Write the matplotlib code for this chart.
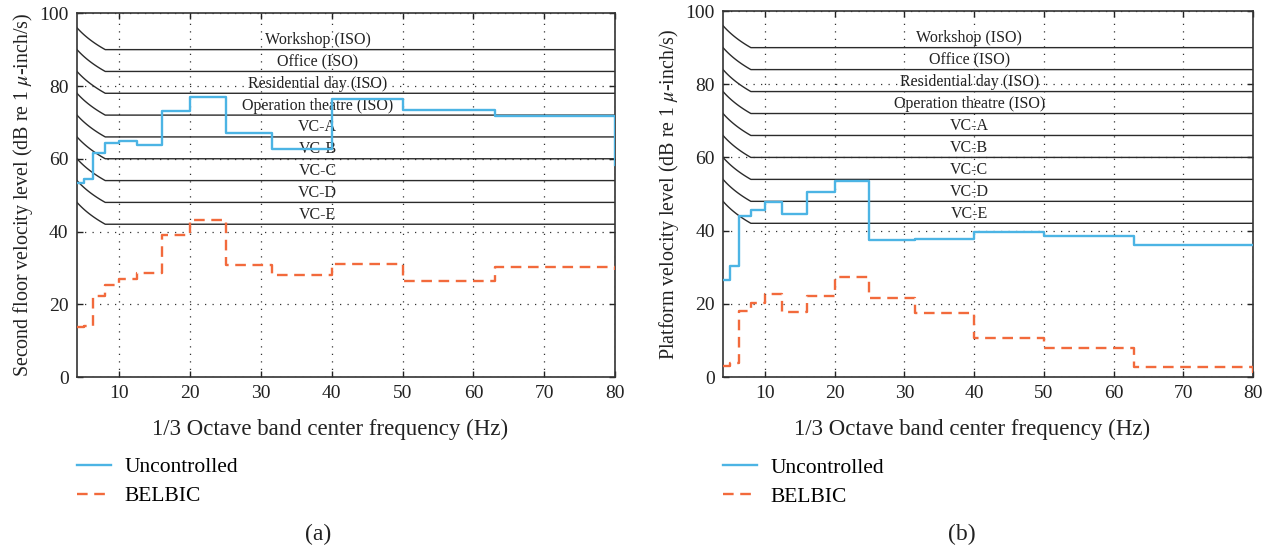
import numpy as np
import matplotlib
matplotlib.use("Agg")
import matplotlib.pyplot as plt

plt.rcParams['font.family'] = ['Liberation Serif', 'DejaVu Serif']
plt.rcParams['mathtext.fontset'] = 'stix'

# 1/3 octave band centre frequencies (Hz)
freqs = [4, 5, 6.3, 8, 10, 12.5, 16, 20, 25, 31.5, 40, 50, 63, 80]

# (a) second floor
floor_unc = [53.4, 54.4, 61.6, 64.2, 65.0, 63.7, 73.2, 77.0, 67.0, 62.8, 76.4, 73.3, 71.8, 58.2]
floor_bel = [13.7, 14.0, 22.3, 25.3, 27.0, 28.5, 39.1, 43.1, 30.8, 28.0, 31.0, 26.4, 30.3, 29.3]

# (b) platform
plat_unc = [26.5, 30.3, 43.9, 45.7, 47.9, 44.6, 50.5, 53.5, 37.4, 37.6, 39.6, 38.4, 36.0, 36.0]
plat_bel = [3.1, 3.9, 18.1, 20.3, 22.6, 17.9, 22.1, 27.2, 21.5, 17.6, 10.7, 8.0, 2.8, 1.1]

# vibration criteria, flat level above 8 Hz (dB re 1 micro-inch/s)
crit_names = ['Workshop (ISO)', 'Office (ISO)', 'Residential day (ISO)',
              'Operation theatre (ISO)', 'VC-A', 'VC-B', 'VC-C', 'VC-D', 'VC-E']
crit_levels = [90, 84, 78, 72, 66, 60, 54, 48, 42]

blue = '#4cb4e4'
orange = '#f26a3c'
txt = '#222222'


def draw_panel(ax, unc, bel, ylabel, label_x):
    # criteria curves: constant acceleration below 8 Hz
    fc = np.linspace(4, 8, 40)
    for name, lev in zip(crit_names, crit_levels):
        xs = np.concatenate([fc, [80]])
        ys = np.concatenate([lev + 20 * np.log10(8 / fc), [lev]])
        ax.plot(xs, ys, color='#2b2b2b', lw=1.0, zorder=2)
        ax.text(label_x, lev + 2.6, name, ha='center', va='center',
                fontsize=11.5, color=txt, zorder=3)

    ax.step(freqs, unc, where='post', color=blue, lw=1.7, label='Uncontrolled', zorder=4)
    ax.step(freqs, bel, where='post', color=orange, lw=1.7, ls=(0, (4.5, 2.8)),
            label='BELBIC', zorder=4)

    ax.set_xlim(4, 80)
    ax.set_ylim(0, 100)
    ax.set_xticks([10, 20, 30, 40, 50, 60, 70, 80])
    ax.set_yticks([0, 20, 40, 60, 80, 100])
    ax.grid(True, color='#333333', ls=(0, (1, 5)), lw=0.9)
    ax.set_axisbelow(True)
    ax.tick_params(direction='in', top=True, right=True, length=4, width=1.0,
                   labelsize=14, pad=6, colors=txt)
    for sp in ax.spines.values():
        sp.set_linewidth(1.2)
        sp.set_color('#333333')
    ax.set_xlabel('1/3 Octave band center frequency (Hz)', fontsize=16.5, color=txt)
    ax.xaxis.set_label_coords(0.47, -0.115)
    ax.set_ylabel(ylabel, fontsize=14.4, color=txt, labelpad=3)
    ax.legend(loc='upper left', bbox_to_anchor=(0.0, -0.22), frameon=False,
              fontsize=15.5, handlelength=1.6, handletextpad=0.6,
              labelspacing=0.42, borderpad=0, borderaxespad=0)


fig = plt.figure(figsize=(12.76, 5.52), dpi=100)
ax1 = fig.add_axes([0.0603, 0.317, 0.4217, 0.659])
ax2 = fig.add_axes([0.5666, 0.317, 0.4154, 0.663])

draw_panel(ax1, floor_unc, floor_bel,
           r'Second floor velocity level (dB re 1 $\mu$-inch/s)', 38.0)
draw_panel(ax2, plat_unc, plat_bel,
           r'Platform velocity level (dB re 1 $\mu$-inch/s)', 39.3)

fig.text(0.249, 0.032, '(a)', ha='center', va='center', fontsize=17, color=txt)
fig.text(0.754, 0.032, '(b)', ha='center', va='center', fontsize=17, color=txt)

fig.savefig('out.png', dpi=100)
